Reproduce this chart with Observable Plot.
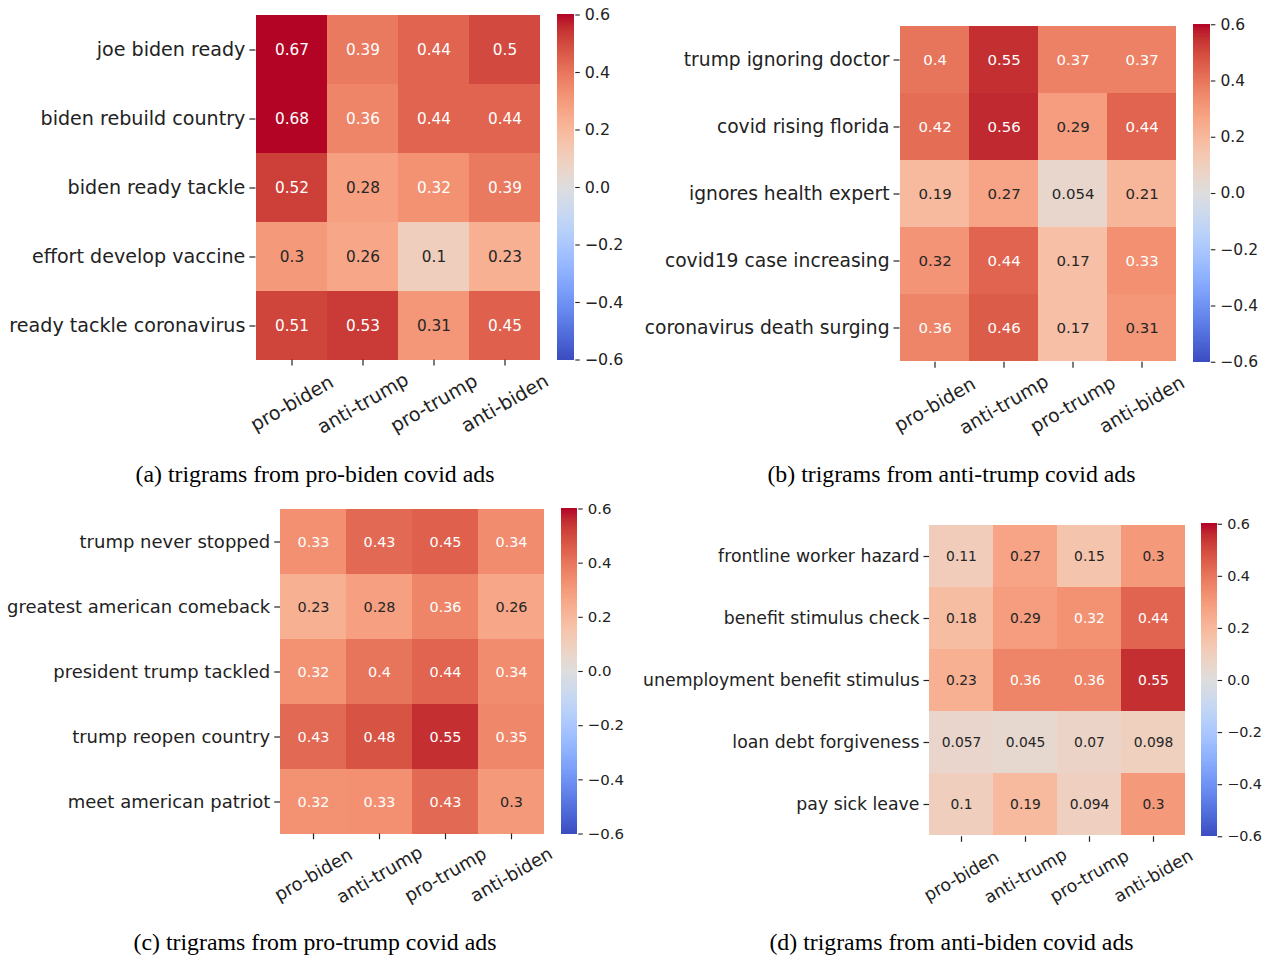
<!DOCTYPE html>
<html>
<head>
<meta charset="utf-8">
<script src="https://cdn.jsdelivr.net/npm/d3@7"></script>
<script src="https://cdn.jsdelivr.net/npm/@observablehq/plot@0.6"></script>
<style>
  html, body { margin: 0; padding: 0; background: #fff; }
  #page { position: relative; width: 1267px; height: 957px; overflow: hidden; background: #fff; }
  .abs { position: absolute; }
  .caption { position: absolute; width: 600px; text-align: center; font-family: "Liberation Serif", "Times New Roman", serif; font-size: 23.8px; line-height: 23.8px; color: #000; white-space: nowrap; }
</style>
</head>
<body>
<div id="page"></div>
<script>
// ---------- data ----------
const columns = ["pro-biden", "anti-trump", "pro-trump", "anti-biden"];

const rowsA = ["joe biden ready", "biden rebuild country", "biden ready tackle", "effort develop vaccine", "ready tackle coronavirus"];
const valuesA = [
  [0.67, 0.39, 0.44, 0.5],
  [0.68, 0.36, 0.44, 0.44],
  [0.52, 0.28, 0.324, 0.39],
  [0.3, 0.26, 0.1, 0.23],
  [0.51, 0.53, 0.31, 0.45]
];

const rowsB = ["trump ignoring doctor", "covid rising florida", "ignores health expert", "covid19 case increasing", "coronavirus death surging"];
const valuesB = [
  [0.4, 0.55, 0.37, 0.37],
  [0.42, 0.56, 0.29, 0.44],
  [0.19, 0.27, 0.054, 0.21],
  [0.316, 0.44, 0.17, 0.33],
  [0.36, 0.46, 0.17, 0.31]
];

const rowsC = ["trump never stopped", "greatest american comeback", "president trump tackled", "trump reopen country", "meet american patriot"];
const valuesC = [
  [0.33, 0.43, 0.45, 0.34],
  [0.23, 0.28, 0.36, 0.26],
  [0.324, 0.4, 0.44, 0.34],
  [0.43, 0.48, 0.55, 0.35],
  [0.324, 0.33, 0.43, 0.3]
];

const rowsD = ["frontline worker hazard", "benefit stimulus check", "unemployment benefit stimulus", "loan debt forgiveness", "pay sick leave"];
const valuesD = [
  [0.11, 0.27, 0.15, 0.3],
  [0.18, 0.29, 0.324, 0.44],
  [0.23, 0.36, 0.36, 0.55],
  [0.057, 0.045, 0.07, 0.098],
  [0.1, 0.19, 0.094, 0.3]
];

const captions = [
  "(a) trigrams from pro-biden covid ads",
  "(b) trigrams from anti-trump covid ads",
  "(c) trigrams from pro-trump covid ads",
  "(d) trigrams from anti-biden covid ads"
];

const colorDomain = [-0.6, 0.6];
const colorbarTicks = [-0.6, -0.4, -0.2, 0.0, 0.2, 0.4, 0.6];

// coolwarm colormap control colours (Moreland)
const coolwarmStops = [
  [59,76,192],[68,90,204],[77,104,215],[87,117,225],[98,130,234],[108,142,241],[119,154,247],[130,165,251],
  [141,176,254],[152,185,255],[163,194,255],[174,201,253],[184,208,249],[194,213,244],[204,217,238],[213,219,230],
  [221,221,221],[229,216,209],[236,211,197],[241,204,185],[245,196,173],[247,187,160],[247,177,148],[247,166,135],
  [244,154,123],[241,141,111],[236,127,99],[229,112,88],[222,96,77],[213,80,66],[203,62,56],[192,40,47],[180,4,38]
].map(([r, g, b]) => `rgb(${r},${g},${b})`);
const coolwarm = d3.piecewise(d3.interpolateRgb, coolwarmStops);

// ---------- layout ----------
const panels = [
  {rows: rowsA, values: valuesA, caption: captions[0], left: 255.5, right: 539.5, top: 14.5, bottom: 359.5, cbLeft: 556.7, capX: 315, capY: 483},
  {rows: rowsB, values: valuesB, caption: captions[1], left: 899.5, right: 1175.5, top: 24.25, bottom: 361.75, cbLeft: 1193.3, capX: 951.5, capY: 483},
  {rows: rowsC, values: valuesC, caption: captions[2], left: 280, right: 544, top: 508.5, bottom: 833.5, cbLeft: 561, capX: 315, capY: 951},
  {rows: rowsD, values: valuesD, caption: captions[3], left: 929, right: 1185, top: 523.75, bottom: 836.25, cbLeft: 1201, capX: 951.5, capY: 951}
];

const page = document.getElementById("page");
const fmt = d3.format(".2~g");
const norm = d3.scaleLinear().domain(colorDomain).range([0, 1]).clamp(true);

function luminance(c) {
  const rgb = d3.rgb(c);
  const f = v => { v /= 255; return v <= 0.03928 ? v / 12.92 : Math.pow((v + 0.055) / 1.055, 2.4); };
  return 0.2126 * f(rgb.r) + 0.7152 * f(rgb.g) + 0.0722 * f(rgb.b);
}
const isLight = v => luminance(coolwarm(norm(v))) > 0.408;

const ink = "#222";
const colorScale = {type: "linear", domain: colorDomain, interpolate: coolwarm, clamp: true};

panels.forEach(P => {
  const rowH = (P.bottom - P.top) / P.rows.length;
  const font = 0.277 * rowH;
  const annotFont = 0.8 * font;
  const cbFont = 0.83 * font;
  const tickLen = 0.32 * font;
  const data = P.rows.flatMap((r, i) => columns.map((c, j) => ({row: r, col: c, value: P.values[i][j]})));

  const mb = 100, mr = 40;
  const heat = Plot.plot({
    width: P.right + mr,
    height: P.bottom + mb,
    marginLeft: P.left,
    marginRight: mr,
    marginTop: P.top,
    marginBottom: mb,
    x: {domain: columns, padding: 0, label: null, axis: null},
    y: {domain: P.rows, padding: 0, label: null, axis: null},
    color: colorScale,
    style: {background: "transparent", overflow: "visible", fontFamily: "DejaVu Sans", fontSize: font + "px", color: ink},
    marks: [
      Plot.cell(data, {x: "col", y: "row", fill: "value", inset: 0, shapeRendering: "crispEdges"}),
      Plot.axisY({label: null, tickSize: tickLen, tickPadding: 4.5, fontSize: font, color: ink, strokeWidth: 1.2}),
      Plot.axisX({label: null, tickSize: tickLen, tickFormat: () => "", color: ink, strokeWidth: 1.2}),
      Plot.text(columns, {x: d => d, frameAnchor: "bottom", dy: 2.28 * font, rotate: -30, textAnchor: "middle", lineAnchor: "middle", fontSize: font, fill: ink}),
      Plot.text(data, {filter: d => isLight(d.value), x: "col", y: "row", text: d => fmt(d.value), fill: "#262626", fontSize: annotFont}),
      Plot.text(data, {filter: d => !isLight(d.value), x: "col", y: "row", text: d => fmt(d.value), fill: "#ffffff", fontSize: annotFont})
    ]
  });
  heat.classList.add("abs");
  heat.style.left = "0px";
  heat.style.top = "0px";
  page.appendChild(heat);

  // colorbar
  const cbW = (P.bottom - P.top) / 20;
  const step = 0.005;
  const gradient = d3.range(colorDomain[0], colorDomain[1] - step / 2, step);
  const cbMr = 60;
  const bar = Plot.plot({
    width: cbW + cbMr,
    height: P.bottom + 20,
    marginLeft: 0,
    marginRight: cbMr,
    marginTop: P.top,
    marginBottom: 20,
    x: {domain: [0, 1], axis: null},
    y: {domain: colorDomain, axis: null},
    color: colorScale,
    style: {background: "transparent", overflow: "visible", fontFamily: "DejaVu Sans", fontSize: cbFont + "px", color: ink},
    marks: [
      Plot.rect(gradient, {x1: 0, x2: 1, y1: d => d, y2: d => Math.min(d + step, colorDomain[1]), fill: d => d + step / 2, shapeRendering: "crispEdges", insetTop: -0.3}),
      Plot.axisY({anchor: "right", label: null, ticks: colorbarTicks, tickFormat: d3.format(".1f"), tickSize: 4.5, tickPadding: 5.5, fontSize: cbFont, color: ink, strokeWidth: 1.1})
    ]
  });
  bar.classList.add("abs");
  bar.style.left = P.cbLeft + "px";
  bar.style.top = "0px";
  page.appendChild(bar);

  const cap = document.createElement("div");
  cap.className = "caption";
  cap.textContent = P.caption;
  cap.style.left = (P.capX - 300) + "px";
  cap.style.top = (P.capY - 19.9) + "px";
  page.appendChild(cap);
});
</script>
</body>
</html>
